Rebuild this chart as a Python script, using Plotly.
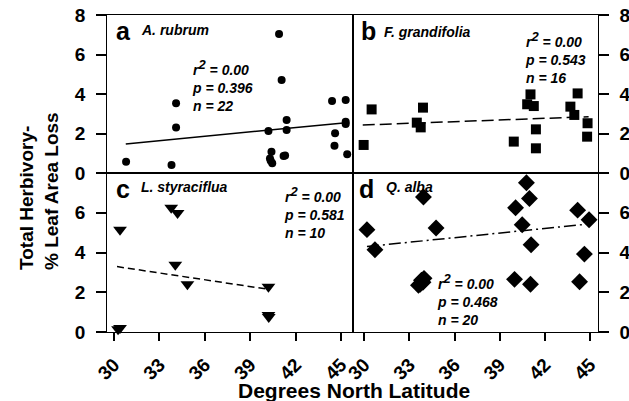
import plotly.graph_objects as go

# ---- data ----
a_lat = [30.8, 33.8, 34.1, 34.1, 40.9, 41.07, 40.2, 41.4, 41.4, 40.4, 40.3, 40.45, 40.35,
         41.2, 41.3, 44.4, 45.3, 44.6, 44.56, 45.3, 45.3, 45.4]
a_val = [0.57, 0.41, 3.53, 2.31, 7.04, 4.71, 2.13, 2.68, 2.18, 1.08, 0.74, 0.49, 0.62,
         0.86, 0.88, 3.65, 3.70, 2.01, 1.38, 2.60, 2.48, 0.95]
a_fit_lat = [30.78, 45.33]
a_fit_val = [1.47, 2.55]

b_lat = [29.96, 30.49, 33.49, 33.75, 33.9, 39.93, 40.82, 41.04, 41.26, 41.4, 41.4,
         43.69, 43.95, 44.17, 44.83, 44.8]
b_val = [1.42, 3.22, 2.55, 2.31, 3.31, 1.59, 3.48, 3.98, 3.39, 2.21, 1.25,
         3.36, 2.94, 4.03, 2.52, 1.84]
b_fit_lat = [29.9, 44.9]
b_fit_val = [2.43, 2.85]

c_lat = [30.4, 30.27, 30.4, 33.78, 34.2, 34.05, 34.85, 40.2, 40.2, 40.22]
c_val = [5.15, 0.14, 0.2, 6.25, 5.99, 3.38, 2.4, 2.28, 0.85, 0.75]
c_fit_lat = [30.2, 40.2]
c_fit_val = [3.29, 2.15]

d_lat = [30.18, 30.71, 33.93, 34.77, 33.71, 33.97, 33.9, 33.6, 40.05, 40.77, 40.97,
         40.49, 41.08, 39.98, 41.04, 44.17, 44.93, 44.62, 44.3, 33.8]
d_val = [5.15, 4.14, 6.79, 5.23, 2.4, 2.70, 2.5, 2.35, 6.25, 7.51, 6.72,
         5.40, 4.39, 2.65, 2.40, 6.13, 5.65, 3.92, 2.53, 2.6]
d_fit_lat = [30.18, 45.1]
d_fit_val = [4.30, 5.45]

x_ticks = [30, 33, 36, 39, 42, 45]
y_ticks_top = [0, 2, 4, 6, 8]
y_ticks_bot = [0, 2, 4, 6]

stats = {
    "a": ("0.00", "0.396", "22"),
    "b": ("0.00", "0.543", "16"),
    "c": ("0.00", "0.581", "10"),
    "d": ("0.00", "0.468", "20"),
}

# ---- layout geometry ----
W, H = 629, 401
L, M, R = 107.3, 352.5, 597.5
T, MID, B = 15, 173, 332

FONT = "Liberation Sans, Arial, sans-serif"

fig = go.Figure()

def add_panel(xs, ys, fx, fy, sym, size, dash, xa, ya):
    fig.add_trace(go.Scatter(x=xs, y=ys, mode="markers",
                             marker=dict(symbol=sym, size=size, color="black"),
                             cliponaxis=False, xaxis=xa, yaxis=ya, showlegend=False))
    fig.add_trace(go.Scatter(x=fx, y=fy, mode="lines",
                             line=dict(color="black", width=1.5, dash=dash),
                             xaxis=xa, yaxis=ya, showlegend=False))

add_panel(a_lat, a_val, a_fit_lat, a_fit_val, "circle", 8, "solid", "x", "y")
add_panel(b_lat, b_val, b_fit_lat, b_fit_val, "square", 10, "12px,5px", "x2", "y2")
add_panel(c_lat, c_val, c_fit_lat, c_fit_val, "triangle-down", 12, "7px,4px", "x3", "y3")
add_panel(d_lat, d_val, d_fit_lat, d_fit_val, "diamond", 13, "12px,4px,2px,4px", "x4", "y4")

def xd(a, b):
    return [a / W, b / W]

def yd(top, bot):
    return [(H - bot) / H, (H - top) / H]

left_range = [29.56, 45.75]
right_range = [29.22, 45.49]

common_ax = dict(showline=True, linecolor="black", linewidth=1.3, mirror=True,
                 showgrid=False, zeroline=False, automargin=False)
xtickf = dict(family=FONT, size=19, color="black", weight="bold")
ytickf = dict(family=FONT, size=19, color="black", weight="bold")

def xaxis(dom, rng, show):
    d = dict(common_ax, domain=dom, range=rng, tickvals=x_ticks)
    if show:
        d.update(ticks="outside", ticklen=8, tickwidth=1.5, tickcolor="black",
                 showticklabels=True, tickangle=-45, tickfont=xtickf,
                 ticklabelstandoff=5)
    else:
        d.update(ticks="", showticklabels=False)
    return d

def yaxis(dom, vals, anchor, side):
    return dict(common_ax, domain=dom, range=[0, 8], tickvals=vals, anchor=anchor,
                side=side, ticks="outside", ticklen=10, tickwidth=1.5, tickcolor="black",
                tickfont=ytickf, ticklabelstandoff=7)

fig.update_layout(
    width=W, height=H, margin=dict(l=0, r=0, t=0, b=0, autoexpand=False),
    template="none",
    plot_bgcolor="white", paper_bgcolor="white",
    xaxis=dict(xaxis(xd(L, M), left_range, False), anchor="y"),
    yaxis=yaxis(yd(T, MID), y_ticks_top, "x", "left"),
    xaxis2=dict(xaxis(xd(M, R), right_range, False), anchor="y2"),
    yaxis2=yaxis(yd(T, MID), y_ticks_top, "x2", "right"),
    xaxis3=dict(xaxis(xd(L, M), left_range, True), anchor="y3"),
    yaxis3=yaxis(yd(MID, B), y_ticks_bot, "x3", "left"),
    xaxis4=dict(xaxis(xd(M, R), right_range, True), anchor="y4"),
    yaxis4=yaxis(yd(MID, B), y_ticks_bot, "x4", "right"),
)

def px_ann(text, x, y, size, italic=False, xanchor="left", yanchor="middle", angle=0):
    fig.add_annotation(text=text, x=x / W, y=(H - y) / H, xref="paper", yref="paper",
                       showarrow=False, xanchor=xanchor, yanchor=yanchor, textangle=angle,
                       align="left",
                       font=dict(family=FONT, size=size, color="black", weight="bold",
                                 style="italic" if italic else "normal"))

# panel letters & species
px_ann("a", 114, 31, 25)
px_ann("A. rubrum", 139, 30, 14, italic=True)
px_ann("b", 359, 31, 25)
px_ann("F. grandifolia", 382, 32, 14, italic=True)
px_ann("c", 114, 189, 25)
px_ann("L. styraciflua", 139, 187, 14, italic=True)
px_ann("d", 357, 189, 25)
px_ann("Q. alba", 384, 187, 14, italic=True)

def stat_ann(key, x, ytop):
    r2, p, n = stats[key]
    txt = (f"r<sup><span style='font-size:13px'>2</span></sup> = {r2}"
           f"<br>p = {p}<br>n = {n}")
    px_ann(txt, x, ytop, 14, italic=True, yanchor="top")

stat_ann("a", 190, 55)
stat_ann("b", 523, 27)
stat_ann("c", 282, 182)
stat_ann("d", 435, 269)

# axis titles
px_ann("Degrees North Latitude", 354, 390, 21, xanchor="center")
px_ann("Total Herbivory-<br>% Leaf Area Loss", 39, 191, 19, xanchor="center", angle=-90)

fig.write_html("out.html")
